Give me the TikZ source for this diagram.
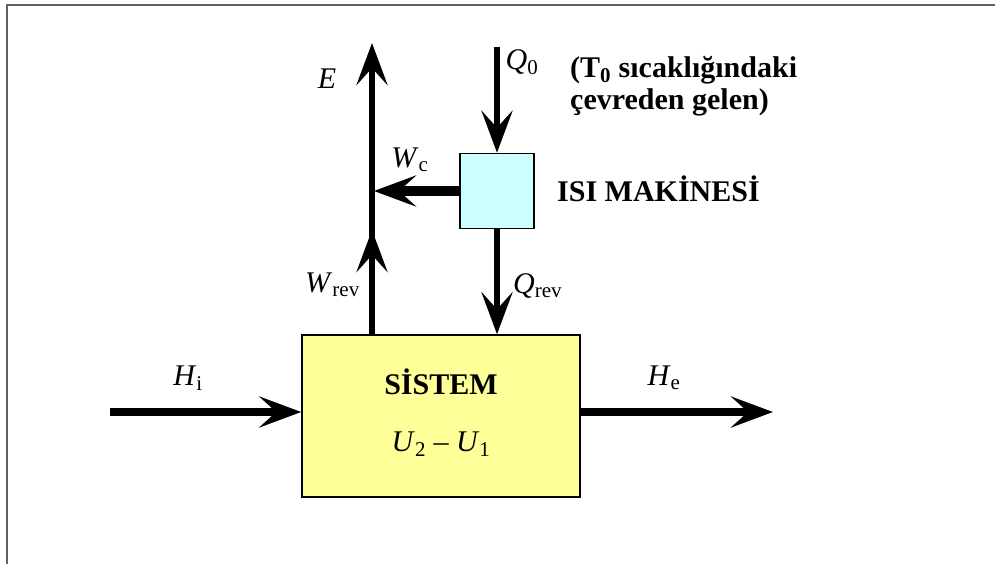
\documentclass[tikz,border=0pt]{standalone}
\usepackage{fontspec}
\setmainfont{Liberation Serif}
\usetikzlibrary{arrows.meta,positioning}
\definecolor{sysyellow}{RGB}{255,255,153}
\definecolor{enginecyan}{RGB}{204,255,255}
\definecolor{framegray}{RGB}{96,96,96}

\begin{document}
\begin{tikzpicture}[x=1pt, y=-1pt,
    flow/.style={line width=6.5pt, -{Stealth[length=42pt,width=31pt,inset=17pt]}},
    thickflow/.style={flow, line width=8pt},
    boldtxt/.style={font=\fontsize{30}{32}\selectfont\bfseries, inner sep=0pt},
    sym/.style={font=\fontsize{30}{32}\selectfont, inner sep=0pt}]
        \useasboundingbox (0,0) rectangle (995,564);
        \draw[framegray, line width=2pt] (7,564) -- (7,5) -- (995,5);

        % boxes
        \node[draw, line width=1.5pt, fill=sysyellow, minimum width=278pt, minimum height=162pt] (sistem) at (441,416) {};
        \node[draw, line width=1.5pt, fill=enginecyan, minimum width=74pt, minimum height=75pt] (isi) at (497,191) {};

        \coordinate (hin) at (110,412);
        \coordinate (hout) at (773,412);
        \coordinate (wbase) at (372,335);
        \coordinate (wmid) at (372,230);
        \coordinate (wtop) at (372,43);
        \coordinate (junc) at (374,191);
        \coordinate (qtop) at (497,47);

        \draw[thickflow] (hin) -- (hin -| sistem.west);
        \draw[thickflow] (sistem.east |- hout) -- (hout);
        \draw[flow] (wbase) -- (wtop);
        \draw[flow] (wbase) -- (wmid);
        \draw[thickflow, line width=9pt] (isi.west) -- (junc);
        \draw[flow] (qtop) -- (isi.north);
        \draw[flow] (isi.south) -- (isi.south |- sistem.north);

        % labels
        \node[boldtxt] (systitle) at (441,382) {SİSTEM};
        \node[sym] (dU) at (441,444) {\textit{U}\textsubscript{2} – \textit{U}\textsubscript{1}};
        \node[sym] (hi) at (188,378) {\textit{H}\textsubscript{i}};
        \node[sym] (he) at (664,378) {\textit{H}\textsubscript{e}};
        \node[sym] (e) at (327,79) {\textit{E}};
        \node[sym] (wc) at (410,160) {\textit{W}\textsubscript{c}};
        \node[sym, anchor=east] (wrev) at (360,285) {\textit{W}\textsubscript{rev}};
        \node[sym, anchor=west] (qrev) at (513,286) {\textit{Q}\textsubscript{rev}};
        \node[sym] (q0) at (522,62) {\textit{Q}\textsubscript{0}};
        \node[boldtxt, anchor=north west, align=left] (source) at (570,56) {(T\textsubscript{0} sıcaklığındaki\\çevreden gelen)};
        \node[boldtxt, anchor=west] (engine) at (557,189) {ISI MAKİNESİ};
\end{tikzpicture}
\end{document}
